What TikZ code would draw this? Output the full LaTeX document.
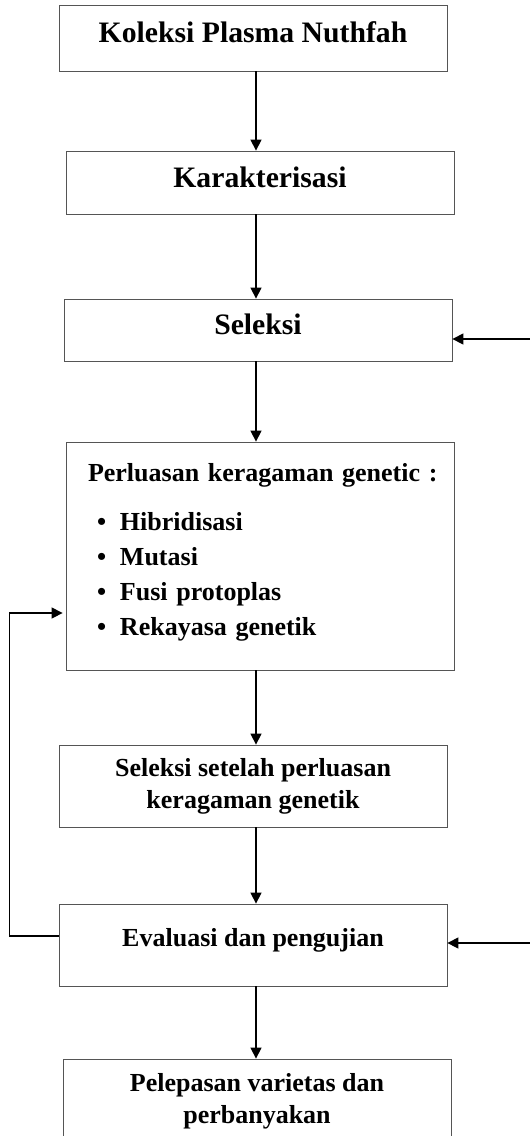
\documentclass[tikz,border=0pt]{standalone}
\usepackage{fontspec}
\setmainfont{Liberation Serif}
\usetikzlibrary{arrows.meta,positioning,calc}
\definecolor{edge}{HTML}{555555}
\tikzset{box/.style={draw=edge,line width=0.8pt,minimum width=388pt,inner sep=0pt,align=center,font=\fontsize{29.7}{34}\selectfont\bfseries,text height=22pt,text depth=14pt},tbox/.style={draw=edge,line width=0.8pt,minimum width=388pt,inner sep=0pt,align=center,font=\fontsize{26}{32}\selectfont\bfseries},arr/.style={-{Triangle[length=11pt,width=11pt]},line width=1.3pt}}

\begin{document}
\begin{tikzpicture}[x=1pt,y=-1pt]
\useasboundingbox (0,0) rectangle (530,1136);
\node[box,minimum height=66pt] (kol) at (253,38) {Koleksi Plasma Nuthfah};
\node[box,minimum height=63pt,text depth=13pt] (kar) at (260,182.5) {Karakterisasi};
\node[box,minimum height=62pt] (sel) at (258,330) {Seleksi};
\node[tbox,align=left,text width=344pt,inner xsep=22pt,minimum height=228pt,font=\fontsize{26}{35}\selectfont\bfseries] (per) at (260,556) {\mbox{Perluasan keragaman genetic :}\\[14pt]
\hspace*{9pt}\makebox[23pt][l]{\textbullet}Hibridisasi\\
\hspace*{9pt}\makebox[23pt][l]{\textbullet}Mutasi\\
\hspace*{9pt}\makebox[23pt][l]{\textbullet}Fusi protoplas\\
\hspace*{9pt}\makebox[23pt][l]{\textbullet}Rekayasa genetik\\[-21pt]\mbox{}};
\node[tbox,minimum height=82pt] (ssp) at (253,786) {Seleksi setelah perluasan\\keragaman genetik};
\node[tbox,minimum height=82pt,text height=20pt,text depth=18pt] (eva) at (253,945) {Evaluasi dan pengujian};
\node[tbox,minimum height=84pt] (pel) at (257,1101) {Pelepasan varietas dan\\perbanyakan};
\coordinate (ax) at (256,0);
\coordinate (r1) at (530,339);
\coordinate (r2) at (530,943);
\draw[arr] (kol.south -| ax)--(kar.north -| ax);
\draw[arr] (kar.south -| ax)--(sel.north -| ax);
\draw[arr] (sel.south -| ax)--(per.north -| ax);
\draw[arr] (per.south -| ax)--(ssp.north -| ax);
\draw[arr] (ssp.south -| ax)--(eva.north -| ax);
\draw[arr] (eva.south -| ax)--(pel.north -| ax);
\draw[arr] (r1)--(r1 -| sel.east);
\draw[arr] (r2)--(r2 -| eva.east);
\draw[arr,shorten >=3pt] ([yshift=9pt]eva.west)--++(-49pt,0)|-([yshift=-57pt]per.west);
\end{tikzpicture}
\end{document}
